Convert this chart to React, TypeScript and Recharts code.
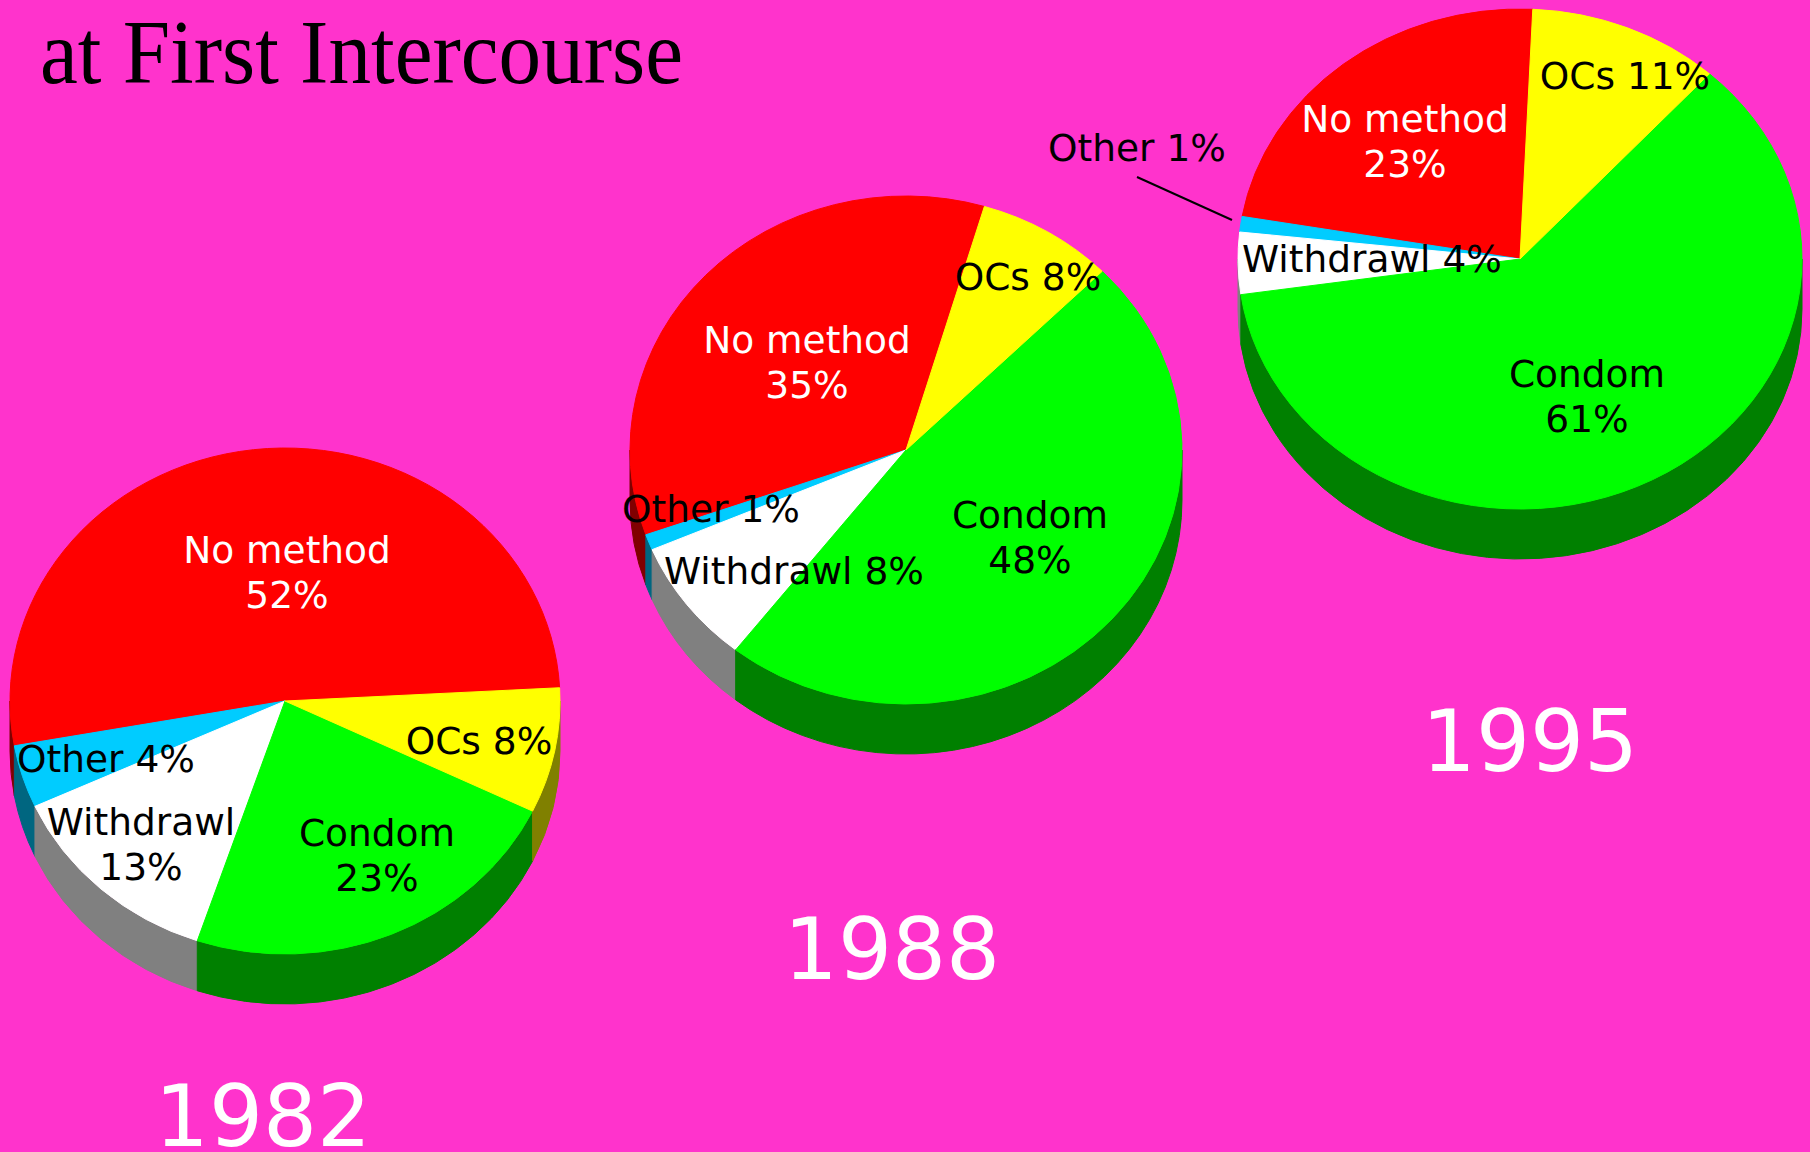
import React from 'react';
import { PieChart, Pie, Cell, Customized } from 'recharts';

// contraceptive method at first intercourse, share of respondents (%)
const categories = ['No method', 'Other', 'Withdrawl', 'Condom', 'OCs'];
const values1982 = [52, 4, 13, 23, 8];
const values1988 = [35, 1, 8, 48, 8];
const values1995 = [23, 1, 4, 61, 11];
const years = ['1982', '1988', '1995'];

const topColors = ['#ff0000', '#00ccff', '#ffffff', '#00ff00', '#ffff00'];
const sideColors = ['#800000', '#006680', '#808080', '#008000', '#808000'];
const labelColors = ['#ffffff', '#000000', '#000000', '#000000', '#000000'];

const BG = '#ff33cc';
const DEPTH = 50;
const FONT = '"DejaVu Sans", Verdana, sans-serif';

type LabelPos = { dx: number; dy: number; split?: boolean; line?: number[] };

// pie placement + where each label sits relative to the pie centre
const layout = [
  {
    values: values1982, cx: 285, cy: 701, rx: 275, ry: 253, start: 3, yearAt: [263, 1146],
    labels: [
      { dx: 2, dy: -138, split: true },
      { dx: -179, dy: 71 },
      { dx: -144, dy: 134, split: true },
      { dx: 92, dy: 145, split: true },
      { dx: 194, dy: 53 },
    ] as LabelPos[],
  },
  {
    values: values1988, cx: 906, cy: 450, rx: 276, ry: 254, start: 73.5, yearAt: [892, 979],
    labels: [
      { dx: -99, dy: -97, split: true },
      { dx: -195, dy: 72 },
      { dx: -112, dy: 134 },
      { dx: 124, dy: 78, split: true },
      { dx: 122, dy: -160 },
    ] as LabelPos[],
  },
  {
    values: values1995, cx: 1520, cy: 259, rx: 282, ry: 250, start: 87.4, yearAt: [1530, 771],
    labels: [
      { dx: -115, dy: -127, split: true },
      { dx: -383, dy: -98, line: [-383, -82, -288, -39] },
      { dx: -148, dy: 13 },
      { dx: 67, dy: 128, split: true },
      { dx: 105, dy: -170 },
    ] as LabelPos[],
  },
];

const pt = (cx: number, cy: number, rx: number, ry: number, deg: number) => {
  const r = (deg * Math.PI) / 180;
  return [cx + rx * Math.cos(r), cy - ry * Math.sin(r)];
};

// one slice of the tilted pie: elliptical top face + the visible front wall
const EllipseSlice = (props: any) => {
  const { cx, cy, outerRadius, startAngle, endAngle, ry, payload, name } = props;
  const rx = outerRadius;
  const idx = categories.indexOf(payload?.name ?? name);
  const fill = topColors[idx];
  const a0 = Math.min(startAngle, endAngle);
  const a1 = Math.max(startAngle, endAngle);

  const walls: string[] = [];
  for (const k of [-1, 0, 1]) {
    const lo = Math.max(a0, 180 + 360 * k);
    const hi = Math.min(a1, 360 + 360 * k);
    if (hi > lo) {
      const [x0, y0] = pt(cx, cy, rx, ry, lo);
      const [x1, y1] = pt(cx, cy, rx, ry, hi);
      const lg = hi - lo > 180 ? 1 : 0;
      walls.push(
        `M${x0},${y0} A${rx},${ry} 0 ${lg} 0 ${x1},${y1} L${x1},${y1 + DEPTH} A${rx},${ry} 0 ${lg} 1 ${x0},${y0 + DEPTH} Z`
      );
    }
  }

  const [sx, sy] = pt(cx, cy, rx, ry, a0);
  const [ex, ey] = pt(cx, cy, rx, ry, a1);
  const large = a1 - a0 > 180 ? 1 : 0;
  const top = `M${cx},${cy} L${sx},${sy} A${rx},${ry} 0 ${large} 0 ${ex},${ey} Z`;

  return (
    <g>
      {walls.map((d, i) => (
        <path key={i} d={d} fill={sideColors[idx]} stroke={sideColors[idx]} strokeWidth={1} />
      ))}
      <path d={top} fill={fill} stroke={fill} strokeWidth={1} strokeLinejoin="round" />
    </g>
  );
};

const renderLabel = (props: any, pos: LabelPos[]) => {
  const { cx, cy, name, value } = props;
  const idx = categories.indexOf(name);
  const p = pos[idx];
  if (!p) return null;
  const x = cx + p.dx;
  const y = cy + p.dy;
  const color = labelColors[idx];
  return (
    <g>
      {p.line && (
        <line x1={cx + p.line[0]} y1={cy + p.line[1]} x2={cx + p.line[2]} y2={cy + p.line[3]} stroke="#000" strokeWidth={2} />
      )}
      <text x={x} y={y} fill={color} fontFamily={FONT} fontSize={37.5} textAnchor="middle">
        {p.split ? (
          <>
            <tspan x={x} y={y}>{name}</tspan>
            <tspan x={x} y={y + 45}>{`${value}%`}</tspan>
          </>
        ) : (
          `${name} ${value}%`
        )}
      </text>
    </g>
  );
};

const Headings = () => (
  <g>
    <text x={40} y={83} fontFamily='"Liberation Serif", "Times New Roman", serif' fontSize={90} fill="#000" textLength={643} lengthAdjust="spacingAndGlyphs">
      at First Intercourse
    </text>
    {layout.map((l, i) => (
      <text key={years[i]} x={l.yearAt[0]} y={l.yearAt[1]} fontFamily={FONT} fontSize={85} fill="#fff" textAnchor="middle">
        {years[i]}
      </text>
    ))}
  </g>
);

export default function App() {
  React.useEffect(() => {
    document.body.style.margin = '0';
    document.body.style.background = BG;
  }, []);

  return (
    <div style={{ position: 'absolute', left: 0, top: 0, width: 1810, height: 1152, background: BG, overflow: 'hidden' }}>
      <PieChart width={1810} height={1152} margin={{ top: 0, right: 0, bottom: 0, left: 0 }}>
        {layout.map((l, i) => {
          const data = categories.map((name, j) => ({ name, value: l.values[j] }));
          return (
            <Pie
              key={years[i]}
              data={data}
              dataKey="value"
              nameKey="name"
              cx={l.cx}
              cy={l.cy}
              outerRadius={l.rx}
              startAngle={l.start}
              endAngle={l.start + 360}
              paddingAngle={0}
              stroke="none"
              labelLine={false}
              label={(p: any) => renderLabel(p, l.labels)}
              shape={(p: any) => <EllipseSlice {...p} ry={l.ry} />}
              isAnimationActive={false}
            >
              {data.map((d, j) => (
                <Cell key={d.name} fill={topColors[j]} />
              ))}
            </Pie>
          );
        })}
        <Customized component={Headings} />
      </PieChart>
    </div>
  );
}
